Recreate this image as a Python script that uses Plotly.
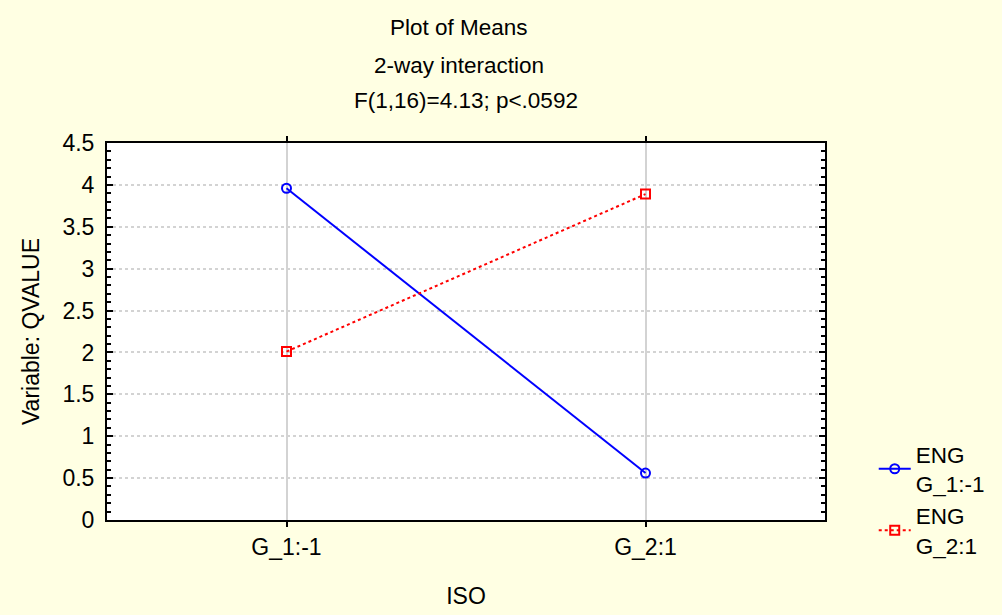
import plotly.graph_objects as go

categories = ["G_1:-1", "G_2:1"]
series_names = ["ENG<br>G_1:-1", "ENG<br>G_2:1"]
eng_g1 = [3.96, 0.56]
eng_g2 = [2.01, 3.89]
title_lines = ["Plot of Means", "2-way interaction", "F(1,16)=4.13; p<.0592"]

FONT = "Liberation Sans, Arial, sans-serif"
BG = "#FFFFE3"
FS = 23
L, R, T, B = 107, 829, 143, 520

fig = go.Figure()
fig.add_trace(go.Scatter(
    x=categories, y=eng_g1, name=series_names[0], mode="lines+markers",
    line=dict(color="#0000FF", width=2),
    marker=dict(symbol="circle-open", size=9, color="#0000FF", line=dict(width=2)),
))
fig.add_trace(go.Scatter(
    x=categories, y=eng_g2, name=series_names[1], mode="lines+markers",
    line=dict(color="#FF0000", width=2, dash="dot"),
    marker=dict(symbol="square-open", size=9, color="#FF0000", line=dict(width=2)),
))

for txt, yp, xp in zip(title_lines, [28, 65, 100], [461, 461, 468]):
    fig.add_annotation(
        text=txt, xref="paper", yref="paper", x=(xp - L) / (R - L),
        y=1 + (T - yp) / (B - T), xanchor="center", yanchor="middle",
        showarrow=False, font=dict(family=FONT, size=22.5, color="black"),
    )

fig.update_layout(
    width=1002, height=615,
    paper_bgcolor=BG, plot_bgcolor="white",
    margin=dict(l=L, r=1002 - R, t=T, b=615 - B),
    font=dict(family=FONT, size=FS, color="black"),
    showlegend=True,
    legend=dict(x=(878 - L) / (R - L), xanchor="left", y=(B - 433) / (B - T), yanchor="top",
                bgcolor="rgba(0,0,0,0)", font=dict(family=FONT, size=22.5, color="black"),
                itemwidth=32, tracegroupgap=3),
)

fig.update_xaxes(
    type="category", range=[-0.5, 1.5],
    showline=True, linecolor="black", linewidth=2, mirror="allticks",
    ticks="outside", ticklen=5, tickwidth=2, tickcolor="black",
    tickfont=dict(family=FONT, size=FS, color="black"),
    showgrid=True, gridcolor="#D3D3D3", gridwidth=2,
    title=dict(text="ISO", standoff=29, font=dict(family=FONT, size=FS, color="black")),
    zeroline=False, automargin=False,
)
fig.update_yaxes(
    range=[0, 4.5], dtick=0.5,
    showline=True, linecolor="black", linewidth=2, mirror="allticks",
    ticks="inside", ticklen=6, tickwidth=2, tickcolor="black", ticklabelstandoff=6,
    tickfont=dict(family=FONT, size=FS, color="black"),
    showgrid=True, gridcolor="#D3D3D3", gridwidth=2, griddash="dot",
    minor=dict(dtick=0.1, ticks="inside", ticklen=4, tickwidth=2, tickcolor="black", showgrid=False),
    title=dict(text="Variable: QVALUE", standoff=16, font=dict(family=FONT, size=FS, color="black")),
    zeroline=False, automargin=False,
)

fig.write_html(
    "out.html",
    config={"displayModeBar": False},
    post_script="document.body.style.margin='0';document.body.style.background='#FFFFE3';",
)
